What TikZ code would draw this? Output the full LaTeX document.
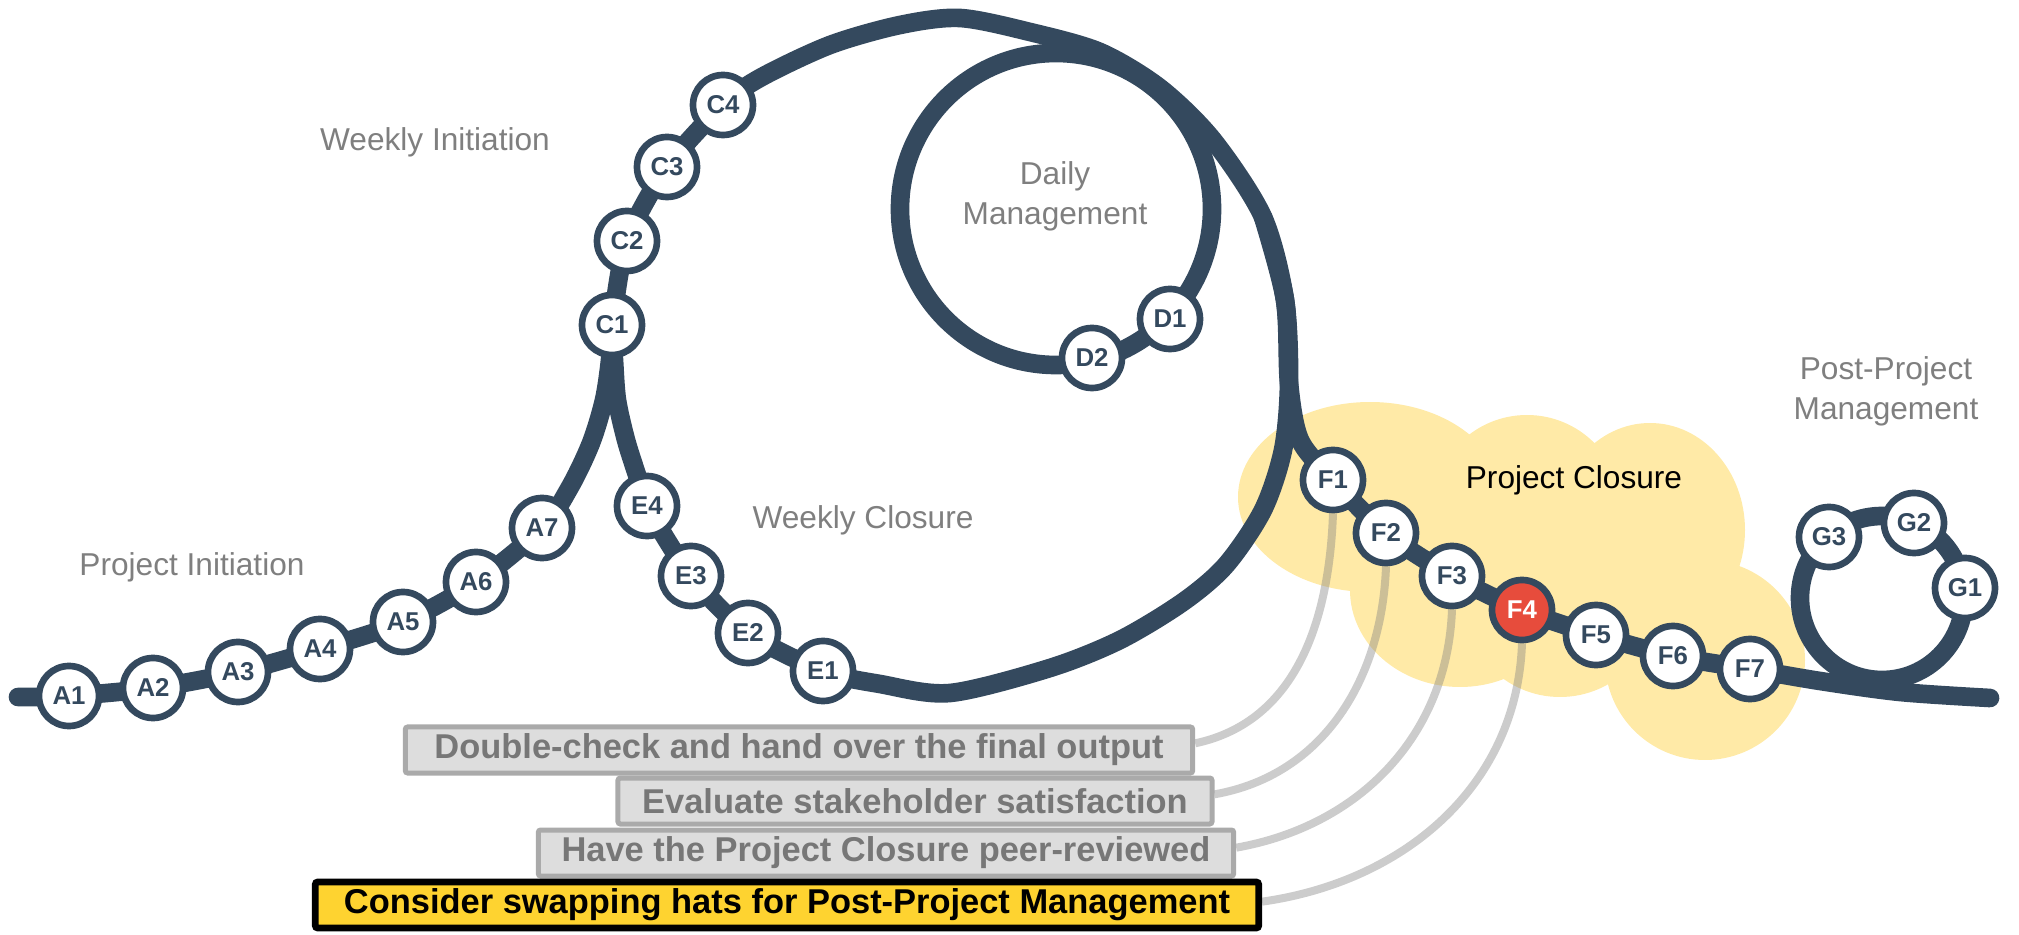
\documentclass[tikz,border=0pt]{standalone}
\usepackage{fontspec}
\setmainfont{Liberation Sans}
\usepackage{tikz}
\usetikzlibrary{positioning, backgrounds}
\definecolor{trackblue}{RGB}{52,73,94}
\definecolor{closured}{RGB}{231,76,60}
\definecolor{cloudyellow}{RGB}{255,234,167}
\definecolor{taskgrey}{RGB}{221,221,221}
\definecolor{taskedge}{RGB}{170,170,170}
\definecolor{tasktext}{RGB}{119,119,119}
\definecolor{hatyellow}{RGB}{254,211,48}
\definecolor{phasegrey}{RGB}{127,127,127}
\pgfdeclarelayer{cloudlayer}
\pgfdeclarelayer{tracklayer}
\pgfsetlayers{cloudlayer,tracklayer,main}

\begin{document}
\begin{tikzpicture}[
    x=0.015cm, y=-0.015cm,
    station/.style={
        circle, draw=trackblue, line width=0.1cm,
        fill=white, minimum size=0.9cm, inner sep=0pt,
        text=trackblue,
        font=\fontsize{11}{13}\selectfont\bfseries
    },
    current/.style={station, fill=closured, text=white},
    track/.style={trackblue, line width=0.28cm,
        line cap=round, line join=round},
    link/.style={gray, draw opacity=0.4, line width=0.12cm},
    task/.style={
        draw=taskedge, fill=taskgrey, line width=0.075cm,
        rounded corners=1pt, minimum height=0.69cm, inner sep=0pt,
        text=tasktext,
        font=\fontsize{14.7}{17}\selectfont\bfseries
    },
    hat/.style={task, draw=black, fill=hatyellow,
        text=black, line width=0.1cm},
    phase/.style={text=phasegrey, align=center,
        font=\fontsize{13.5}{17}\selectfont}
]
\useasboundingbox (0,0) rectangle (2019,935);

\node[station] (A1) at (69,696)  {A1};
\node[station] (A2) at (153,688) {A2};
\node[station] (A3) at (238,672) {A3};
\node[station] (A4) at (320,649) {A4};
\node[station] (A5) at (403,622) {A5};
\node[station] (A6) at (476,582) {A6};
\node[station] (A7) at (542,528) {A7};

\node[station] (C1) at (612,325) {C1};
\node[station] (C2) at (627,241) {C2};
\node[station] (C3) at (667,167) {C3};
\node[station] (C4) at (723,105) {C4};

\node[station] (D1) at (1170,319) {D1};
\node[station] (D2) at (1092,358) {D2};

\node[station] (E1) at (823,671) {E1};
\node[station] (E2) at (748,633) {E2};
\node[station] (E3) at (691,576) {E3};
\node[station] (E4) at (647,506) {E4};

\node[station] (F1) at (1333,480) {F1};
\node[station] (F2) at (1386,533) {F2};
\node[station] (F3) at (1452,576) {F3};
\node[current] (F4) at (1522,610) {F4};
\node[station] (F5) at (1596,635) {F5};
\node[station] (F6) at (1673,656) {F6};
\node[station] (F7) at (1750,669) {F7};

\node[station] (G1) at (1965,588) {G1};
\node[station] (G2) at (1914,523) {G2};
\node[station] (G3) at (1829,537) {G3};

\node[phase] (pinit)  at (192,567)  {Project Initiation};
\node[phase] (winit)  at (435,142)  {Weekly Initiation};
\node[phase] (daily)  at (1055,196) {Daily\\Management};
\node[phase] (wclose) at (863,520)  {Weekly Closure};
\node[phase, text=black] (pclose) at (1574,480) {Project Closure};
\node[phase] (ppm)    at (1886,391) {Post-Project\\Management};

\node[task, minimum width=11.81cm] (t1) at (799,750)
    {Double-check and hand over the final output};
\node[task, minimum width=8.91cm] (t2) at (915,801)
    {Evaluate stakeholder satisfaction};
\node[task, minimum width=10.43cm] (t3) at (886,853)
    {Have the Project Closure peer-reviewed};
\node[hat, minimum width=14.15cm] (t4) at (787,905)
    {Consider swapping hats for Post-Project Management};

\begin{pgfonlayer}{cloudlayer}
\fill[cloudyellow]
    (1370,497) ellipse[x radius=132, y radius=95]
    (1527,510) circle[radius=95]
    (1650,530) ellipse[x radius=95, y radius=107]
    (1705,660) circle[radius=100]
    (1560,600) circle[radius=97]
    (1460,590) ellipse[x radius=110, y radius=97];
\end{pgfonlayer}

\begin{pgfonlayer}{tracklayer}
\draw[link] (F1.south) to[out=-92, in=12] ([yshift=0.1cm]t1.east);
\draw[link] (F2.south) to[out=-92, in=10] ([yshift=0.1cm]t2.east);
\draw[link] (F3.south) to[out=-92, in=10] ([yshift=0.08cm]t3.east);
\draw[link] (F4.south) to[out=-92, in=8]  ([yshift=0.05cm]t4.east);

\draw[track] plot[smooth] coordinates {(18,697)
    (A1.center) (A2.center) (A3.center) (A4.center)
    (A5.center) (A6.center) (A7.center)
    (570,487) (591,443) (604,400) (610,360)
    (C1.center) (C2.center) (C3.center) (C4.center)
    (760,78) (830,45) (900,25) (960,18) (1030,32) (1100,52)
    (1160,88) (1213,140) (1263,217) (1285,300) (1289,383) (1300,440)
    (F1.center) (F2.center) (F3.center) (F4.center)
    (F5.center) (F6.center) (F7.center)
    (1820,681) (1900,692) (1990,698)};
\draw[track] plot[smooth] coordinates {(1263,217) (1285,300)
    (1289,383) (1283,450) (1263,510) (1226,565) (1183,602)
    (1120,640) (1050,668) (950,693) (880,684)
    (E1.center) (E2.center) (E3.center) (E4.center)
    (637,475) (626,440) (617,400) (614,360) (C1.center)};
\draw[track] (1056,209) circle[radius=156];
\draw[track] (1882,598) circle[radius=82];
\end{pgfonlayer}
\end{tikzpicture}
\end{document}
